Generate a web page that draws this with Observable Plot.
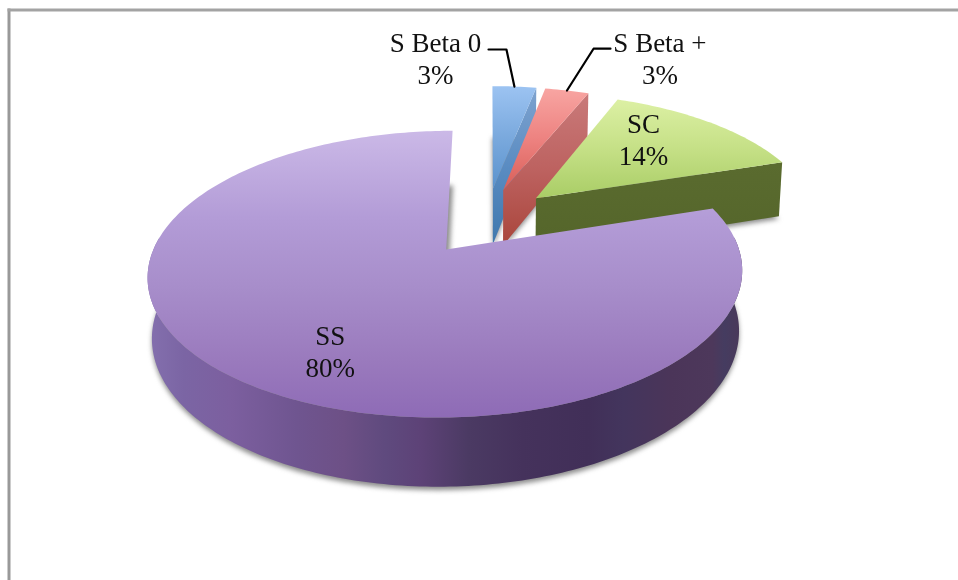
<!DOCTYPE html>
<html>
<head>
<meta charset="utf-8">
<style>html,body{margin:0;padding:0;background:#fff}svg{display:block}</style>
<script src="https://cdn.jsdelivr.net/npm/d3@7"></script>
<script src="https://cdn.jsdelivr.net/npm/@observablehq/plot@0.6"></script>
</head>
<body>
<div id="chart"></div>
<script>
// Data
const names = ["S Beta 0", "S Beta +", "SC", "SS"];
const values = [3, 3, 14, 80];

// View: pie-plane coordinates (u across, v into the page) under a tilted camera
const W = 958, H = 580;
const view = {X0: 489, Y0: 222, A: 283, B: 130, k: 1 / 6, m: 0.012, h: 0.45};
const explode = 0.26;
const nudge = [[-0.012, 0.012], [-0.022, 0.012], [-0.02, 0.015], [0.005, 0.01]];

// Label anchors and leader bends in the pie plane
const labelAnchors = [[-0.242, 1.61], [0.764, 1.61], [0.609, 0.719], [-0.483, -0.846]];
const leaderEnds = [[-0.0045, 1.71], [0.55, 1.72]];
const leaderBends = [[0.077, 1.71], [0.473, 1.72]];

function project(u, v, z = 0) {
  const w = 1 + view.k * v + view.m * z;
  return {x: u / w, y: (v - view.h * z) / w};
}
const deg = Math.PI / 180;
const slices = d3.pie().sort(null)(values).map((s, i) => {
  const mid = (s.startAngle + s.endAngle) / 2;
  return {
    i, a0: s.startAngle, a1: s.endAngle, mid,
    cu: explode * Math.sin(mid) + nudge[i][0],
    cv: explode * Math.cos(mid) + nudge[i][1]
  };
});
function rim(s, a, z = 0) {
  return project(s.cu + Math.sin(a), s.cv + Math.cos(a), z);
}
function arc(s, a0, a1, z = 0) {
  const n = Math.max(2, Math.ceil((a1 - a0) / deg));
  return d3.range(n + 1).map(j => rim(s, a0 + (a1 - a0) * j / n, z));
}
const apex = (s, z = 0) => project(s.cu, s.cv, z);
const topFace = s => [apex(s), ...arc(s, s.a0, s.a1)];
const endFace = s => [apex(s), rim(s, s.a1), rim(s, s.a1, 1), apex(s, 1)];
const outerWall = (s, a0, a1) => [...arc(s, a0, a1), ...arc(s, a0, a1, 1).reverse()];
const base = (s, z) => [apex(s, z), ...arc(s, s.a0, s.a1, z)];

const face = (pts, fill, extra = {}) =>
  Plot.line(pts, {x: "x", y: "y", fill, stroke: "none", curve: "linear", ...extra});

const [blue, red, green, ss] = slices;

const marks = [
  Plot.frame({anchor: "left", stroke: "#999", strokeWidth: 3}),
  Plot.frame({anchor: "top", stroke: "#a3a3a3", strokeWidth: 3}),
  // soft shadows
  ...slices.map(s => face(base(s, 1.05), "#666", {imageFilter: "blur(2.5px)", fillOpacity: 0.75})),
  // blue
  face(endFace(blue), "url(#blueWall)"),
  face(topFace(blue), "url(#blueTop)"),
  // red
  face(endFace(red), "url(#redWall)"),
  face(topFace(red), "url(#redTop)"),
  // green
  face(endFace(green), "url(#greenWall)"),
  face(topFace(green), "url(#greenTop)"),
  // purple
  face(outerWall(ss, 85 * deg, 275 * deg), "url(#ssWall)"),
  face(topFace(ss), "url(#ssTop)"),
  // leaders
  ...[0, 1].map(i => Plot.line(
    [project(...leaderEnds[i]), project(...leaderBends[i]), rim(slices[i], slices[i].mid)],
    {x: "x", y: "y", stroke: "#000", strokeWidth: 2.2, curve: "linear"}
  )),
  // labels
  Plot.text(names.map((n, i) => ({t: `${n}\n${values[i]}%`, ...project(...labelAnchors[i])})), {
    x: "x", y: "y", text: "t", fontSize: 27, lineHeight: 1.185,
    fontFamily: "Liberation Serif", fill: "#111", lineAnchor: "middle", textAnchor: "middle"
  })
];

const plot = Plot.plot({
  width: W, height: H,
  marginLeft: 8.5, marginTop: 9.5, marginRight: 0, marginBottom: 0,
  x: {axis: null, domain: [-view.X0 / view.A, (W - view.X0) / view.A], range: [0, W]},
  y: {axis: null, domain: [view.Y0 / view.B, (view.Y0 - H) / view.B], range: [0, H]},
  style: {background: "#fff", filter: "blur(0.45px)"},
  marks
});

// Gradients
const defs = d3.create("svg:defs");
function grad(id, stops, horizontal = false) {
  const g = defs.append("linearGradient").attr("id", id)
    .attr("x1", 0).attr("y1", 0).attr("x2", horizontal ? 1 : 0).attr("y2", horizontal ? 0 : 1);
  stops.forEach(([o, c]) => g.append("stop").attr("offset", o).attr("stop-color", c));
}
grad("ssTop", [[0, "#cbb9e7"], [0.3, "#b39cd7"], [0.55, "#a78dca"], [0.8, "#9a7abd"], [1, "#8e6bb6"]]);
grad("ssWall", [[0, "#8470ae"], [0.06, "#7b65a4"], [0.14, "#7c5f9f"], [0.25, "#6f5590"], [0.33, "#6d5086"],
  [0.4, "#5f4a7e"], [0.46, "#5d4277"], [0.54, "#4b3a63"], [0.63, "#45325c"], [0.74, "#412f58"],
  [0.8, "#43355d"], [0.88, "#4b3559"], [0.95, "#4d385b"], [0.97, "#453c60"], [1, "#4a3859"]], true);
grad("blueTop", [[0, "#9cc3f2"], [0.5, "#7aa9dd"], [1, "#5b93cd"]]);
grad("blueWall", [[0, "#7fa3cf"], [0.5, "#5a8cc2"], [1, "#3f78ad"]]);
grad("redTop", [[0, "#f8a5a2"], [0.5, "#ed8280"], [1, "#d95f58"]]);
grad("redWall", [[0, "#c97a7a"], [0.5, "#bd6260"], [1, "#a9453b"]]);
grad("greenTop", [[0, "#dcf0a4"], [0.5, "#c5e086"], [1, "#a9cd66"]]);
grad("greenWall", [[0, "#5a6b2f"], [1, "#54652a"]]);
plot.prepend(defs.node());

document.getElementById("chart").append(plot);
</script>
</body>
</html>
